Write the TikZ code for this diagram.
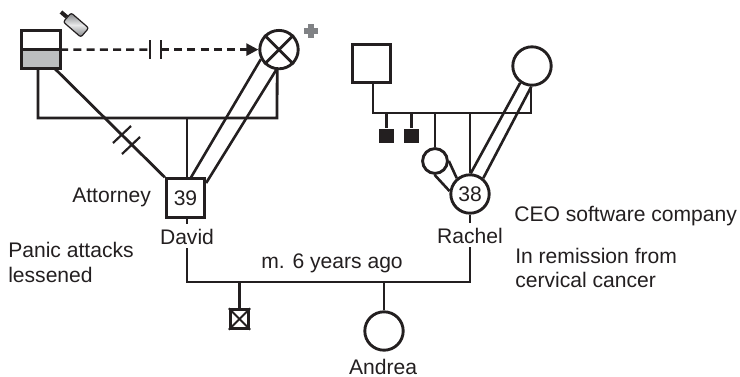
\documentclass[tikz,border=0pt]{standalone}
\usepackage{fontspec}
\setmainfont{Liberation Sans}
\usepackage{xcolor}
\usetikzlibrary{arrows.meta,positioning}
\definecolor{ink}{HTML}{231F20}
\definecolor{drink}{HTML}{BCBEC0}
\definecolor{plusgray}{HTML}{808285}

\begin{document}
\begin{tikzpicture}[
  x=0.25mm, y=-0.25mm,
  every node/.style={text=ink},
  male/.style={draw=ink, line width=0.72mm, minimum size=9.6mm, inner sep=0pt,
    font=\fontsize{15}{17}\selectfont},
  female/.style={male, circle, minimum size=9.6mm},
  lost/.style={male, minimum size=4.6mm},
  lostblack/.style={rectangle, fill=ink, minimum size=3.7mm, inner sep=0pt},
  halfbox/.style={male, outer sep=0pt, minimum width=9.6mm, minimum height=4.8mm},
  link/.style={draw=ink, line width=0.7mm},
  thinlink/.style={draw=ink, line width=0.65mm},
  cut/.style={draw=ink, line width=0.55mm},
  lbl/.style={font=\fontsize{15}{17}\selectfont, inner sep=0pt, anchor=base west, align=left},
  who/.style={font=\fontsize{15}{17}\selectfont, inner sep=1mm, anchor=base},
  dashedarr/.style={draw=ink, line width=0.65mm, dash pattern=on 2mm off 1.3mm},
]
\useasboundingbox (0,0) rectangle (740,377);

% David's parents
\node[halfbox] (fathertop) at (41,40) {};
\node[halfbox, fill=drink, below=0pt of fathertop] (fatherbot) {};
\node[female] (mother) at (279,49.6) {};
\draw[link] (mother.45) -- (mother.225);
\draw[link] (mother.135) -- (mother.-45);
\node[draw=ink, line width=0.3mm, rounded corners=1.5pt, rotate=-41, top color=plusgray,
  bottom color=plusgray, middle color=drink!35, minimum width=5.8mm, minimum height=3mm,
  inner sep=0pt] (bottle) at (76,25) {};
\coordinate (bottletip) at (61,12);
\draw[ink, line width=1mm] (bottle.west) -- (bottletip);
\coordinate (plusc) at (311,31);
\draw[plusgray, line width=1.3mm] ([yshift=-1.7mm]plusc) -- ([yshift=1.7mm]plusc);
\draw[plusgray, line width=1.3mm] ([xshift=-1.8mm]plusc) -- ([xshift=1.8mm]plusc);

% Cutoff between the parents
\coordinate (cutA) at (150,49.6);
\coordinate (cutB) at (161,49.6);
\draw[dashedarr] (fathertop.south east) -- (cutA);
\draw[dashedarr, -{Triangle[length=3mm,width=3mm]}] (cutB) -- (mother.west);
\draw[cut] ([yshift=-2.3mm]cutA) -- ([yshift=2.3mm]cutA);
\draw[cut] ([yshift=-2.3mm]cutB) -- ([yshift=2.3mm]cutB);

% David
\node[male] (david) at (185.5,198) {39};
\coordinate (sibsL) at (38,118);
\coordinate (sibsR) at (277,118);
\coordinate (sibsC) at (187,118);
\draw[link] ([xshift=-0.75mm]fatherbot.south) -- (sibsL) -- (sibsR) -- (mother.265);
\draw[link] (sibsC) -- (sibsC |- david.north);
\draw[link] ([xshift=3.5mm]fatherbot.south) -- (david.north west);
\draw[thinlink] (mother.208) -- (david.75);
\draw[thinlink] (mother.262) -- (david.36);
\draw[cut] (113,143) -- (131,126);
\draw[cut] (122,154) -- (140,137);

% Rachel's parents
\node[male] (rfather) at (371.5,63.5) {};
\node[female] (rmother) at (532,66) {};
\coordinate (rsibsL) at (373,113);
\coordinate (rsibsR) at (531,113);
\draw[link] (rsibsL |- rfather.south) -- (rsibsL) -- (rsibsR) -- (rsibsR |- rmother.south);

% Rachel and her siblings
\node[lostblack] (lostA) at (386.5,136) {};
\node[lostblack] (lostB) at (411.5,136) {};
\node[female, minimum size=6.2mm] (sister) at (435,161) {};
\node[female] (rachel) at (470,194) {38};
\draw[link] (lostA |- rsibsL) -- (lostA.north);
\draw[link] (lostB |- rsibsL) -- (lostB.north);
\draw[link] (sister.north |- rsibsL) -- (sister.north);
\draw[link] (rachel.north |- rsibsL) -- (rachel.north);
\draw[thinlink] (rmother.-125) -- (rachel.88);
\draw[thinlink] (rmother.-92) -- (rachel.50);
\draw[thinlink] (sister.0) -- (rachel.130);
\draw[thinlink] (sister.-92) -- (rachel.172);

% Couple and children
\node[who] (davidname) at (187,244) {David};
\node[who] (rachelname) at (470,243) {Rachel};
\coordinate (marL) at (187,282);
\coordinate (marR) at (470,282);
\draw[link] (david.south -| davidname) -- (davidname.north);
\draw[link] (rachel.south) -- (rachelname.north);
\draw[link] (davidname.south) -- (marL) -- (marR) -- (rachelname.south);
\node[lost] (lostchild) at (239.5,319) {};
\draw[line width=0.5mm, draw=ink] (lostchild.north west) -- (lostchild.south east);
\draw[line width=0.5mm, draw=ink] (lostchild.north east) -- (lostchild.south west);
\node[female] (andrea) at (384,331) {};
\draw[link] (lostchild.north |- marL) -- (lostchild.north);
\draw[link] (andrea.north |- marL) -- (andrea.north);

% Labels
\node[who, inner sep=0pt] (married) at (332,268) {m. 6 years ago};
\node[who, inner sep=0pt] (andreaname) at (383,374) {Andrea};
\node[lbl] (job) at (72,202) {Attorney};
\node[lbl] (panic) at (8,257) {Panic attacks};
\node[lbl] (panicB) at (8,282) {lessened};
\node[lbl] (ceo) at (514,221) {CEO software company};
\node[lbl] (remission) at (515,263) {In remission from};
\node[lbl] (remissionB) at (515,287) {cervical cancer};
\end{tikzpicture}
\end{document}
